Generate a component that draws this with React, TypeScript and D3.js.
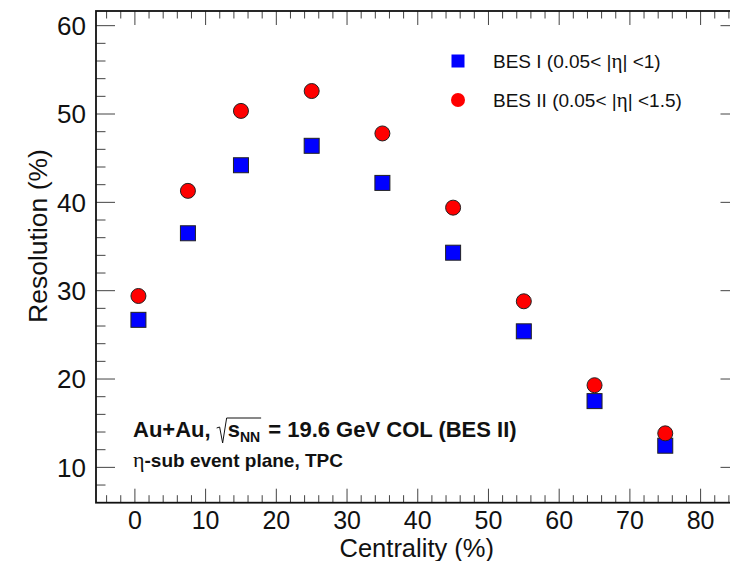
import React, { useEffect, useRef } from "react";
import * as d3 from "d3";

const centrality = [0.5, 7.5, 15, 25, 35, 45, 55, 65, 75];
const besI = [26.7, 36.5, 44.2, 46.4, 42.2, 34.3, 25.4, 17.5, 12.45];
const besII = [29.4, 41.3, 50.35, 52.6, 47.8, 39.4, 28.8, 19.3, 13.85];
const xMajorTicks = [0, 10, 20, 30, 40, 50, 60, 70, 80];
const yMajorTicks = [10, 20, 30, 40, 50, 60];
const legendLabels = ["BES I (0.05< |", "BES II (0.05< |"];
const legendTails = ["| <1)", "| <1.5)"];

const W = 730;
const H = 561;
const FONT = "'Liberation Sans', Arial, Helvetica, sans-serif";
const SERIF = "'Liberation Serif', 'DejaVu Serif', serif";

export default function App() {
  const ref = useRef<SVGSVGElement | null>(null);

  useEffect(() => {
    document.body.style.margin = "0";
    const svg = d3.select(ref.current);
    svg.selectAll("*").remove();

    const x = d3.scaleLinear().domain([-5.5, 85.5]).range([96, 739.5]);
    const y = d3.scaleLinear().domain([6, 61.66]).range([502.7, 11]);
    const [x0, x1] = x.range();
    const [y0, y1] = y.range();

    svg.append("rect").attr("x", 0).attr("y", 0).attr("width", W).attr("height", H).attr("fill", "white");

    const g = svg.append("g");

    const xMinor = d3.range(-4, 86, 2).filter((v) => v % 10 !== 0);
    const yMinor = d3.range(8, 61, 2).filter((v) => v % 10 !== 0);
    const tickColor = "#444";

    xMinor.forEach((v) => {
      g.append("line").attr("x1", x(v)).attr("x2", x(v)).attr("y1", y0).attr("y2", y0 - 7.5).attr("stroke", tickColor).attr("stroke-width", 1);
      g.append("line").attr("x1", x(v)).attr("x2", x(v)).attr("y1", y1).attr("y2", y1 + 7.5).attr("stroke", tickColor).attr("stroke-width", 1);
    });
    xMajorTicks.forEach((v) => {
      g.append("line").attr("x1", x(v)).attr("x2", x(v)).attr("y1", y0).attr("y2", y0 - 14).attr("stroke", tickColor).attr("stroke-width", 1);
      g.append("line").attr("x1", x(v)).attr("x2", x(v)).attr("y1", y1).attr("y2", y1 + 14).attr("stroke", tickColor).attr("stroke-width", 1);
      g.append("text").attr("x", x(v)).attr("y", 529).attr("text-anchor", "middle")
        .attr("font-family", FONT).attr("font-size", 25).attr("fill", "#111").text(String(v));
    });
    yMinor.forEach((v) => {
      g.append("line").attr("x1", x0).attr("x2", x0 + 9.5).attr("y1", y(v)).attr("y2", y(v)).attr("stroke", tickColor).attr("stroke-width", 1);
      g.append("line").attr("x1", x1).attr("x2", x1 - 9.5).attr("y1", y(v)).attr("y2", y(v)).attr("stroke", tickColor).attr("stroke-width", 1);
    });
    yMajorTicks.forEach((v) => {
      g.append("line").attr("x1", x0).attr("x2", x0 + 19).attr("y1", y(v)).attr("y2", y(v)).attr("stroke", tickColor).attr("stroke-width", 1);
      g.append("line").attr("x1", x1).attr("x2", x1 - 19).attr("y1", y(v)).attr("y2", y(v)).attr("stroke", tickColor).attr("stroke-width", 1);
      g.append("text").attr("x", 86).attr("y", y(v)).attr("dy", "0.36em").attr("text-anchor", "end")
        .attr("font-family", FONT).attr("font-size", 26).attr("fill", "#111").text(String(v));
    });

    g.append("rect").attr("x", x0).attr("y", y1).attr("width", x1 - x0).attr("height", y0 - y1)
      .attr("fill", "none").attr("stroke", "#111").attr("stroke-width", 1.8);

    g.append("text").attr("x", (x0 + x1) / 2 - 1).attr("y", 557).attr("text-anchor", "middle")
      .attr("font-family", FONT).attr("font-size", 25.5).attr("fill", "#111").text("Centrality (%)");
    g.append("text").attr("transform", `translate(47,236) rotate(-90)`).attr("text-anchor", "middle")
      .attr("font-family", FONT).attr("font-size", 26.5).attr("fill", "#111").text("Resolution (%)");

    const s = 15;
    centrality.forEach((c, i) => {
      g.append("rect").attr("x", x(c) - s / 2).attr("y", y(besI[i]) - s / 2).attr("width", s).attr("height", s)
        .attr("fill", "#0000ff").attr("stroke", "#222").attr("stroke-width", 1);
    });
    centrality.forEach((c, i) => {
      g.append("circle").attr("cx", x(c)).attr("cy", y(besII[i])).attr("r", 7.5)
        .attr("fill", "#ff0000").attr("stroke", "#222").attr("stroke-width", 1);
    });

    const ly = [61, 100];
    g.append("rect").attr("x", 458 - 6.5).attr("y", ly[0] - 6.5).attr("width", 13).attr("height", 13).attr("fill", "#0000ff");
    g.append("circle").attr("cx", 458).attr("cy", ly[1]).attr("r", 7).attr("fill", "#ff0000");
    ly.forEach((yy, i) => {
      const t = g.append("text").attr("x", 493).attr("y", yy).attr("dy", "0.36em")
        .attr("font-family", FONT).attr("font-size", 19).attr("fill", "#111");
      t.append("tspan").text(legendLabels[i]);
      t.append("tspan").attr("font-family", SERIF).attr("font-size", 21).text("η");
      t.append("tspan").text(legendTails[i]);
    });

    const bx = 133;
    const by = 437;
    const fs = 22;
    const t1 = g.append("text").attr("x", bx).attr("y", by).attr("font-family", FONT)
      .attr("font-weight", "bold").attr("font-size", fs).attr("fill", "#111").text("Au+Au,");
    const w1 = (t1.node() as SVGTextElement).getComputedTextLength();
    const rx = bx + w1 + 7;
    const sx = rx + 10;
    const t2 = g.append("text").attr("x", sx).attr("y", by).attr("font-family", FONT)
      .attr("font-weight", "bold").attr("font-size", fs).attr("fill", "#111").text("s");
    const w2 = (t2.node() as SVGTextElement).getComputedTextLength();
    const t3 = g.append("text").attr("x", sx + w2).attr("y", by + 5).attr("font-family", FONT)
      .attr("font-weight", "bold").attr("font-size", 14).attr("fill", "#111").text("NN");
    const w3 = (t3.node() as SVGTextElement).getComputedTextLength();
    const endR = sx + w2 + w3 + 1;
    g.append("path")
      .attr("d", `M${rx - 1},${by - 9} L${rx + 2},${by - 10} L${rx + 5},${by + 6} L${rx + 9},${by - 19} L${endR},${by - 19}`)
      .attr("fill", "none").attr("stroke", "#111").attr("stroke-width", 1);
    g.append("text").attr("x", endR + 1).attr("y", by).attr("font-family", FONT)
      .attr("font-weight", "bold").attr("font-size", fs).attr("fill", "#111").attr("xml:space", "preserve")
      .text(" = 19.6 GeV COL (BES II)");

    const l2 = g.append("text").attr("x", bx).attr("y", 467).attr("font-family", FONT)
      .attr("font-weight", "bold").attr("font-size", 19).attr("fill", "#111");
    l2.append("tspan").attr("font-family", SERIF).attr("font-weight", "normal").attr("font-size", 22).text("η");
    l2.append("tspan").text("-sub event plane, TPC");
  }, []);

  return (
    <svg ref={ref} width={W} height={H} style={{ position: "absolute", left: 0, top: 0, display: "block" }} />
  );
}
